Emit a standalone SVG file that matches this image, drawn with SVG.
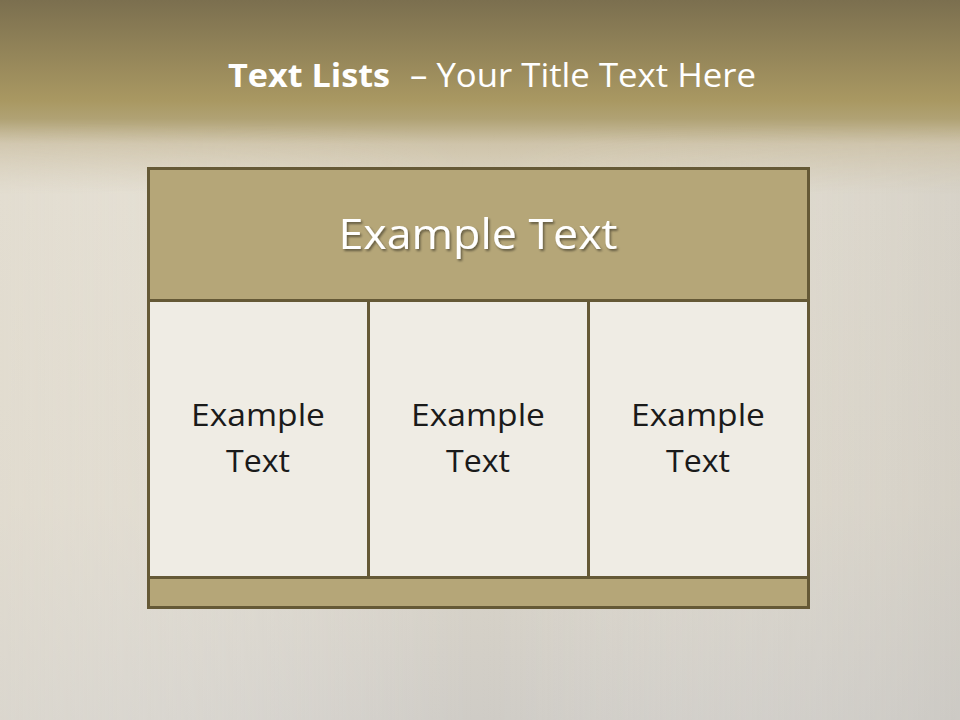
<svg xmlns="http://www.w3.org/2000/svg" width="960" height="720" viewBox="0 0 960 720">
<defs>
<linearGradient id="bg" x1="0" y1="0" x2="0" y2="1">
<stop offset="0" stop-color="#7b6f4f"/>
<stop offset="0.14" stop-color="#a99862"/>
<stop offset="0.165" stop-color="#b0a274"/>
<stop offset="0.2" stop-color="#cfc4aa"/>
<stop offset="0.27" stop-color="#dfd9cb"/>
<stop offset="0.7" stop-color="#dcd6c9"/>
<stop offset="1" stop-color="#cfccc6"/>
</linearGradient>
<linearGradient id="side" x1="0" y1="0" x2="1" y2="0">
<stop offset="0" stop-color="#e6e1d6" stop-opacity="0.5"/>
<stop offset="0.5" stop-color="#ffffff" stop-opacity="0"/>
<stop offset="1" stop-color="#c8c6c2" stop-opacity="0.35"/>
</linearGradient>
<linearGradient id="fade" x1="0" y1="0" x2="0" y2="1">
<stop offset="0" stop-color="#fff" stop-opacity="0"/>
<stop offset="0.17" stop-color="#fff" stop-opacity="0"/>
<stop offset="0.27" stop-color="#fff" stop-opacity="1"/>
<stop offset="1" stop-color="#fff" stop-opacity="1"/>
</linearGradient>
<mask id="m" maskContentUnits="userSpaceOnUse">
<rect width="960" height="720" fill="url(#fade)"/>
</mask>
<filter id="sh" x="-10%" y="-30%" width="120%" height="160%">
<feDropShadow dx="1.5" dy="2" stdDeviation="1.2" flood-color="#000" flood-opacity="0.45"/>
</filter>
<style>
.hdr{fill:#b5a678;stroke:#655936;stroke-width:3}
.cell{fill:#efece4;stroke:#655936;stroke-width:3}
.t{font-family:"Open Sans","Noto Sans","Liberation Sans",sans-serif;fill:#1a1a1a;font-size:31px;text-anchor:middle}
.w{font-family:"Open Sans","Noto Sans","Liberation Sans",sans-serif;fill:#ffffff}
</style>
</defs>
<rect width="960" height="720" fill="url(#bg)"/>
<rect width="960" height="720" fill="url(#side)" mask="url(#m)"/>
<g id="title">
<text class="w" x="228" y="87" font-size="32" font-weight="bold" textLength="162" lengthAdjust="spacingAndGlyphs">Text Lists</text>
<text class="w" x="410" y="87" font-size="32" textLength="346" lengthAdjust="spacingAndGlyphs">– Your Title Text Here</text>
</g>
<g id="header">
<rect class="hdr" x="148.5" y="168.5" width="660" height="132"/>
<text class="w" x="478" y="249" font-size="42" text-anchor="middle" filter="url(#sh)" textLength="279" lengthAdjust="spacingAndGlyphs">Example Text</text>
</g>
<g id="cell1">
<rect class="cell" x="148.5" y="300.5" width="220" height="277"/>
<text class="t" x="258" y="426" textLength="134" lengthAdjust="spacingAndGlyphs">Example</text>
<text class="t" x="258" y="472" textLength="64" lengthAdjust="spacingAndGlyphs">Text</text>
</g>
<g id="cell2">
<rect class="cell" x="368.5" y="300.5" width="220" height="277"/>
<text class="t" x="478" y="426" textLength="134" lengthAdjust="spacingAndGlyphs">Example</text>
<text class="t" x="478" y="472" textLength="64" lengthAdjust="spacingAndGlyphs">Text</text>
</g>
<g id="cell3">
<rect class="cell" x="588.5" y="300.5" width="220" height="277"/>
<text class="t" x="698" y="426" textLength="134" lengthAdjust="spacingAndGlyphs">Example</text>
<text class="t" x="698" y="472" textLength="64" lengthAdjust="spacingAndGlyphs">Text</text>
</g>
<g id="footer">
<rect class="hdr" x="148.5" y="577.5" width="660" height="30"/>
</g>
<g id="connectors"/>
</svg>
